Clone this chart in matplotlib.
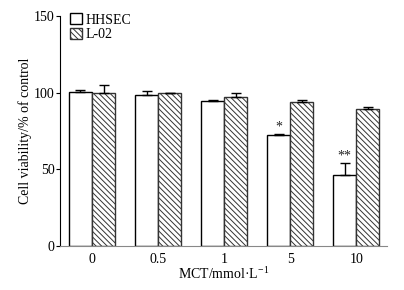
import numpy as np
import matplotlib.pyplot as plt

plt.rcParams['font.family'] = ['Liberation Serif', 'DejaVu Serif']
plt.rcParams['mathtext.fontset'] = 'custom'
plt.rcParams['mathtext.rm'] = 'Liberation Serif'
plt.rcParams['hatch.linewidth'] = 0.7
plt.rcParams['hatch.color'] = '#333333'

# ── data ────────────────────────────────────────────────────────────────────
doses = ["0", "0.5", "1", "5", "10"]
hhsec = [100.5, 98.5, 94.5, 72.5, 46.0]
hhsec_err = [1.0, 2.5, 1.0, 0.5, 8.0]
l02 = [100.0, 99.5, 97.0, 94.0, 89.5]
l02_err = [5.0, 0.5, 2.5, 1.0, 1.0]
marks = ["", "", "", "*", "**"]

# ── plot ────────────────────────────────────────────────────────────────────
fig = plt.figure(figsize=(4.04, 2.9), dpi=100)
ax = fig.add_axes([0.1485, 0.152, 0.81, 0.793])

x = np.arange(len(doses))
w = 0.35
ekw = dict(ecolor="black", elinewidth=1.0, capsize=3.6, capthick=1.0)
ax.bar(x - w / 2, hhsec, w, color="white", edgecolor="black", linewidth=1.0,
       label="HHSEC", yerr=[np.zeros(len(x)), hhsec_err], error_kw=ekw)
ax.bar(x + w / 2, l02, w, color="white", edgecolor="#333333", linewidth=1.0,
       hatch="\\\\\\\\\\\\", label="L-02", yerr=[np.zeros(len(x)), l02_err],
       error_kw=ekw)

for xi, v, e, m in zip(x, hhsec, hhsec_err, marks):
    if m:
        ax.text(xi - w / 2, v + e + 0.3, m, ha="center", va="bottom",
                fontsize=10, color="#222222")

ax.set_xlim(-0.485, 4.47)
ax.set_ylim(0, 150)
ax.set_yticks([0, 50, 100, 150])
ax.set_xticks(x)
ax.set_xticklabels(doses)
ax.tick_params(axis="x", length=0, labelsize=10, pad=5)
ax.tick_params(axis="y", length=3, direction="out", labelsize=10, pad=1)
ax.spines["top"].set_visible(False)
ax.spines["right"].set_visible(False)
ax.spines["bottom"].set_color("#888888")
ax.set_ylabel("Cell viability/% of control", fontsize=10, labelpad=1)
ax.set_xlabel(r"MCT/mmol·L$^{\mathregular{-1}}$", fontsize=10, labelpad=0)

ax.legend(loc="upper left", bbox_to_anchor=(0.015, 1.035), frameon=False,
          fontsize=10, handlelength=0.8, handleheight=0.8, handletextpad=0.3,
          labelspacing=0.1, borderaxespad=0)

fig.savefig("out.png", dpi=100)
